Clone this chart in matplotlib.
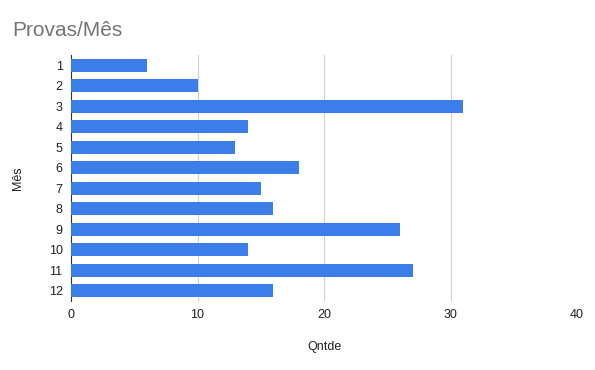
import matplotlib.pyplot as plt
import numpy as np

# data
meses = ['1', '2', '3', '4', '5', '6', '7', '8', '9', '10', '11', '12']
qntde = [6, 10, 31, 14, 13, 18, 15, 16, 26, 14, 27, 16]

plt.rcParams['font.family'] = ['Arial', 'Liberation Sans', 'DejaVu Sans']

fig = plt.figure(figsize=(5.95, 3.70), dpi=100)
ax = fig.add_axes([71/595, 1 - 301/370, (577 - 71)/595, (301 - 55)/370])

y = np.arange(len(meses))
ax.barh(y, qntde, height=0.65, color='#3b7de9', zorder=3)
ax.set_yticks(y)
ax.set_yticklabels(meses)
ax.set_ylim(len(meses) - 0.5, -0.5)
ax.set_xlim(0, 40)
ax.set_xticks([0, 10, 20, 30, 40])

ax.grid(axis='x', color='#d0d0d0', linewidth=0.8, zorder=0)
for s in ['top', 'right', 'bottom']:
    ax.spines[s].set_visible(False)
ax.spines['left'].set_color('#333333')
ax.tick_params(axis='both', length=0, labelsize=9, colors='#222222', pad=6)

ax.set_xlabel('Qntde', fontsize=9, color='#222222', labelpad=14)
ax.set_ylabel('Mês', fontsize=9, color='#222222', labelpad=18)

fig.text(12/595, 1 - 30/370, 'Provas/Mês', fontsize=15, color='#757575', va='center', ha='left')

fig.savefig('out.png', dpi=100)
